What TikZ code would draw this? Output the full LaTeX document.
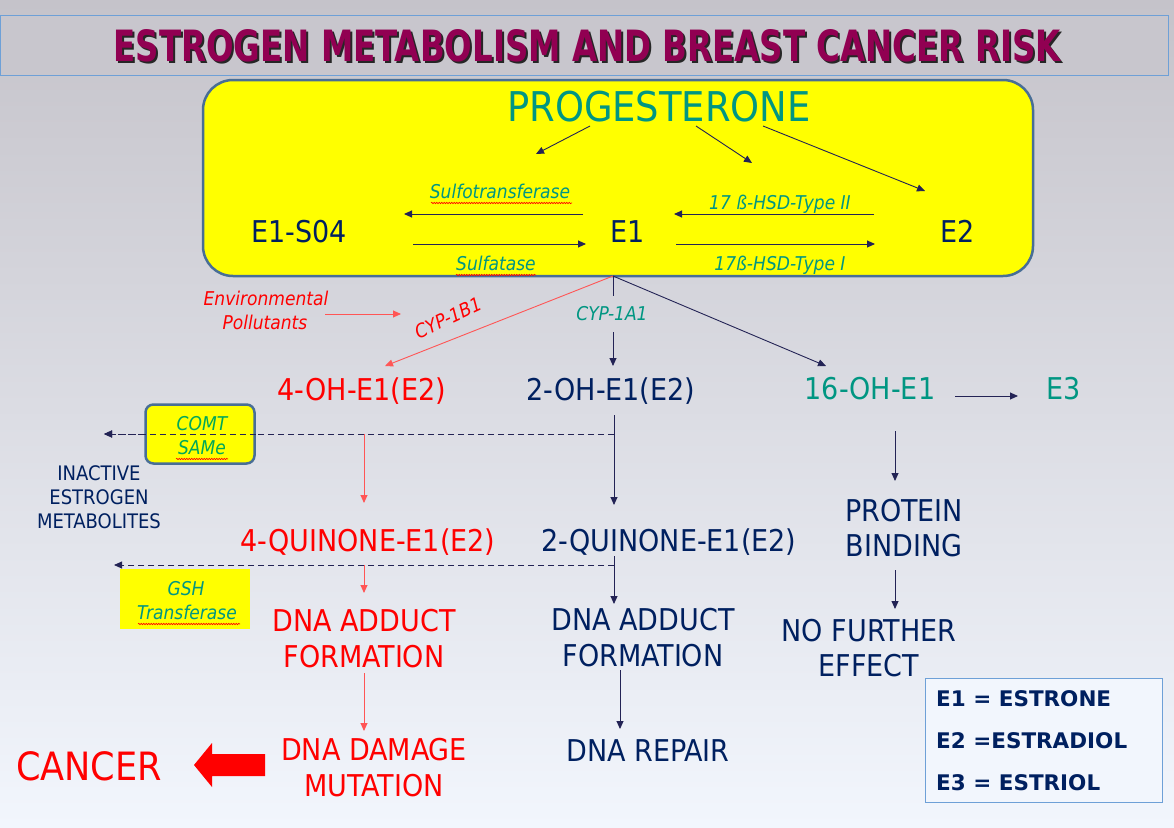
\documentclass[tikz,border=0pt]{standalone}
\usepackage{fontspec}
\setmainfont{DejaVu Sans Condensed}
\newfontfamily\legfont{DejaVu Sans}
\usetikzlibrary{arrows.meta,decorations.pathmorphing}
\definecolor{navy}{RGB}{0,32,96}
\definecolor{tealc}{RGB}{0,150,130}
\definecolor{grnc}{RGB}{0,168,90}
\definecolor{redt}{RGB}{255,0,0}
\definecolor{redl}{RGB}{255,85,85}
\definecolor{arrn}{RGB}{35,35,85}
\definecolor{boxb}{RGB}{72,110,150}
\definecolor{titlec}{RGB}{145,0,82}
\definecolor{ybox}{RGB}{255,255,0}
\definecolor{bgtop}{RGB}{197,195,202}
\definecolor{bgbot}{RGB}{242,246,253}
\definecolor{tboxfill}{RGB}{200,198,205}
\definecolor{tboxline}{RGB}{110,160,215}
\newcommand{\fs}[1]{\fontsize{#1}{#1}\selectfont}
\tikzset{
  lbl/.style={inner sep=0pt, anchor=base},
  big/.style={lbl, font=\fs{30}},
  ital/.style={lbl, font=\fs{19}\itshape, text=tealc},
  small/.style={lbl, font=\fs{20}, text=navy},
  narr/.style={draw=arrn, line width=0.9pt, -{Triangle[length=8pt,width=7pt]}},
  rarr/.style={draw=redl, line width=0.9pt, -{Triangle[length=8pt,width=7pt]}},
  darr/.style={narr, dash pattern=on 6pt off 4pt},
  squig/.style={draw=red, line width=0.6pt, decorate, decoration={snake, amplitude=0.7pt, segment length=2.5pt}},
  legt/.style={lbl, anchor=base west, font=\fs{21.5}\legfont\bfseries, text=navy},
}
\begin{document}
\begin{tikzpicture}[x=1pt,y=-1pt]
\useasboundingbox (0,0) rectangle (1174,827);
\fill[top color=bgtop, bottom color=bgbot] (0,0) rectangle (1174,827);
% title
\draw[tboxline, fill=tboxfill, line width=0.8pt] (0,15) rectangle (1168,75);
\node[inner sep=0pt, text=black!85] (titleshadow) at (589,48) {\resizebox{947pt}{32pt}{\bfseries ESTROGEN METABOLISM AND BREAST CANCER RISK}};
\node[inner sep=0pt, text=titlec] (title) at (587,46) {\resizebox{947pt}{32pt}{\bfseries ESTROGEN METABOLISM AND BREAST CANCER RISK}};
% yellow box
\draw[boxb, fill=ybox, line width=2.5pt, rounded corners=30pt] (203,80) rectangle (1033,276);
\node[lbl, font=\fs{41}, text=tealc] (prog) at (659,121) {PROGESTERONE};
\node[big, text=navy] (e1s04) at (299,242) {E1-S04};
\node[big, text=navy] (e1) at (628,242) {E1};
\node[big, text=navy] (e2) at (958,242) {E2};
\node[ital] (sulfo) at (500,198) {Sulfotransferase};
\node[ital] (sulfa) at (496,270) {Sulfatase};
\node[ital] (hsd2) at (780,209) {17 ß-HSD-Type II};
\node[ital] (hsd1) at (780,270) {17ß-HSD-Type I};
\draw[squig] (431,203) -- (572,203);
\draw[squig] (456,275) -- (536,275);
% arrows from progesterone
\coordinate (p1) at (590,126); \coordinate (p1e) at (536,154);
\coordinate (p2) at (696,126); \coordinate (p2e) at (752,163);
\coordinate (p3) at (763,126); \coordinate (p3e) at (925,191);
\draw[narr] (p1) -- (p1e);
\draw[narr] (p2) -- (p2e);
\draw[narr] (p3) -- (p3e);
\coordinate (s1) at (583,214); \coordinate (s1e) at (404,214);
\coordinate (s2) at (413,244); \coordinate (s2e) at (586,244);
\coordinate (h2) at (874,214); \coordinate (h2e) at (674,214);
\coordinate (h1) at (676,244); \coordinate (h1e) at (875,244);
\draw[narr] (s1) -- (s1e);
\draw[narr] (s2) -- (s2e);
\draw[narr] (h2) -- (h2e);
\draw[narr] (h1) -- (h1e);
% second level
\coordinate (e1b) at (613,276);
\coordinate (cypa) at (613,296);
\coordinate (cypb) at (613,332);
\coordinate (oh2t) at (613,366);
\coordinate (oh4t) at (385,366);
\coordinate (oh16t) at (826,366);
\draw[arrn, line width=0.9pt] (e1b) -- (cypa);
\draw[narr] (cypb) -- (oh2t);
\draw[rarr] (e1b) -- (oh4t);
\draw[narr] (e1b) -- (oh16t);
\node[ital] (cyp1a1) at (612,320) {CYP-1A1};
\node[lbl, font=\fs{19}\itshape, text=redt, anchor=center, rotate=25] (cyp1b1) at (448,318) {CYP-1B1};
\node[lbl, font=\fs{19}\itshape, text=redt] (env1) at (266,305) {Environmental};
\node[lbl, font=\fs{19}\itshape, text=redt] (env2) at (265,329) {Pollutants};
\coordinate (ena) at (325,314); \coordinate (enb) at (401,314);
\draw[rarr] (ena) -- (enb);
\node[big, text=redt] (oh4) at (362,400) {4-OH-E1(E2)};
\node[big, text=navy] (oh2) at (611,400) {2-OH-E1(E2)};
\node[big, text=tealc] (oh16) at (870,399) {16-OH-E1};
\node[big, text=tealc] (e3) at (1064,399) {E3};
\coordinate (e3a) at (955,396); \coordinate (e3b) at (1018,396);
\draw[narr] (e3a) -- (e3b);
% COMT dashed
\coordinate (d1a) at (614,434); \coordinate (d1b) at (104,434);
\coordinate (oh2b) at (614,415); \coordinate (q2t) at (614,505);
\coordinate (r1a) at (364,434); \coordinate (r1b) at (364,503);
\draw[narr] (oh2b) -- (q2t);
\draw[rarr] (r1a) -- (r1b);
\draw[darr] (d1a) -- (d1b);
\node[draw=boxb, fill=ybox, line width=2.5pt, rounded corners=8pt, minimum width=109pt, minimum height=59pt, inner sep=0pt] (comt) at (200,434) {};
\node[lbl, font=\fs{19}\itshape, text=grnc] (comtt) at (202,430) {COMT};
\node[lbl, font=\fs{19}\itshape, text=grnc] (same) at (202,454) {SAMe};
\draw[squig] (176,459) -- (228,459);
\draw[darr] (comt.east |- d1a) -- (d1b);
\node[small] (ina1) at (99,480) {INACTIVE};
\node[small] (ina2) at (99,504) {ESTROGEN};
\node[small] (ina3) at (99,528) {METABOLITES};
% quinones
\node[big, text=redt] (q4) at (368,551) {4-QUINONE-E1(E2)};
\node[big, text=navy] (q2) at (669,551) {2-QUINONE-E1(E2)};
\coordinate (d2a) at (614,565); \coordinate (d2b) at (114,565);
\draw[darr] (d2a) -- (d2b);
\node[fill=ybox, minimum width=130pt, minimum height=60pt, inner sep=0pt] (gsh) at (185,599) {};
\node[lbl, font=\fs{19}\itshape, text=tealc] (gsht) at (186,595) {GSH};
\node[lbl, font=\fs{19}\itshape, text=tealc] (trans) at (187,619) {Transferase};
\draw[squig] (138,624) -- (240,624);
\coordinate (r2a) at (364,565); \coordinate (r2b) at (364,593);
\draw[rarr] (r2a) -- (r2b);
\coordinate (n2a) at (614,556); \coordinate (n2b) at (614,604);
\draw[narr] (n2a) -- (n2b);
% DNA adduct
\node[big, text=redt] (dna4a) at (364,631) {DNA ADDUCT};
\node[big, text=redt] (dna4b) at (364,667) {FORMATION};
\node[big, text=navy] (dna2a) at (643,630) {DNA ADDUCT};
\node[big, text=navy] (dna2b) at (643,666) {FORMATION};
\coordinate (r3a) at (364,673); \coordinate (r3b) at (364,731);
\draw[rarr] (r3a) -- (r3b);
\coordinate (n3a) at (620,670); \coordinate (n3b) at (620,729);
\draw[narr] (n3a) -- (n3b);
\node[big, text=redt] (dmg1) at (374,760) {DNA DAMAGE};
\node[big, text=redt] (dmg2) at (374,796) {MUTATION};
\node[big, text=navy] (repair) at (648,761) {DNA REPAIR};
\node[lbl, font=\fs{39}, text=redt] (cancer) at (89,780) {CANCER};
\fill[redt] (265,754) -- (212,754) -- (212,743) -- (194,765) -- (212,787) -- (212,776) -- (265,776) -- cycle;
% 16-OH branch
\coordinate (n4a) at (895,431); \coordinate (n4b) at (895,481);
\draw[narr] (n4a) -- (n4b);
\node[big, text=navy] (prot1) at (904,521) {PROTEIN};
\node[big, text=navy] (prot2) at (904,556) {BINDING};
\coordinate (n5a) at (895,570); \coordinate (n5b) at (895,609);
\draw[narr] (n5a) -- (n5b);
\node[big, text=navy] (nf1) at (869,641) {NO FURTHER};
\node[big, text=navy] (nf2) at (869,676) {EFFECT};
% legend
\draw[tboxline, fill=bgbot, line width=0.8pt] (925,678) rectangle (1162,802);
\node[legt] (l1) at (936,706) {E1 = ESTRONE};
\node[legt] (l2) at (936,748) {E2 =ESTRADIOL};
\node[legt] (l3) at (936,790) {E3 = ESTRIOL};
\end{tikzpicture}
\end{document}
